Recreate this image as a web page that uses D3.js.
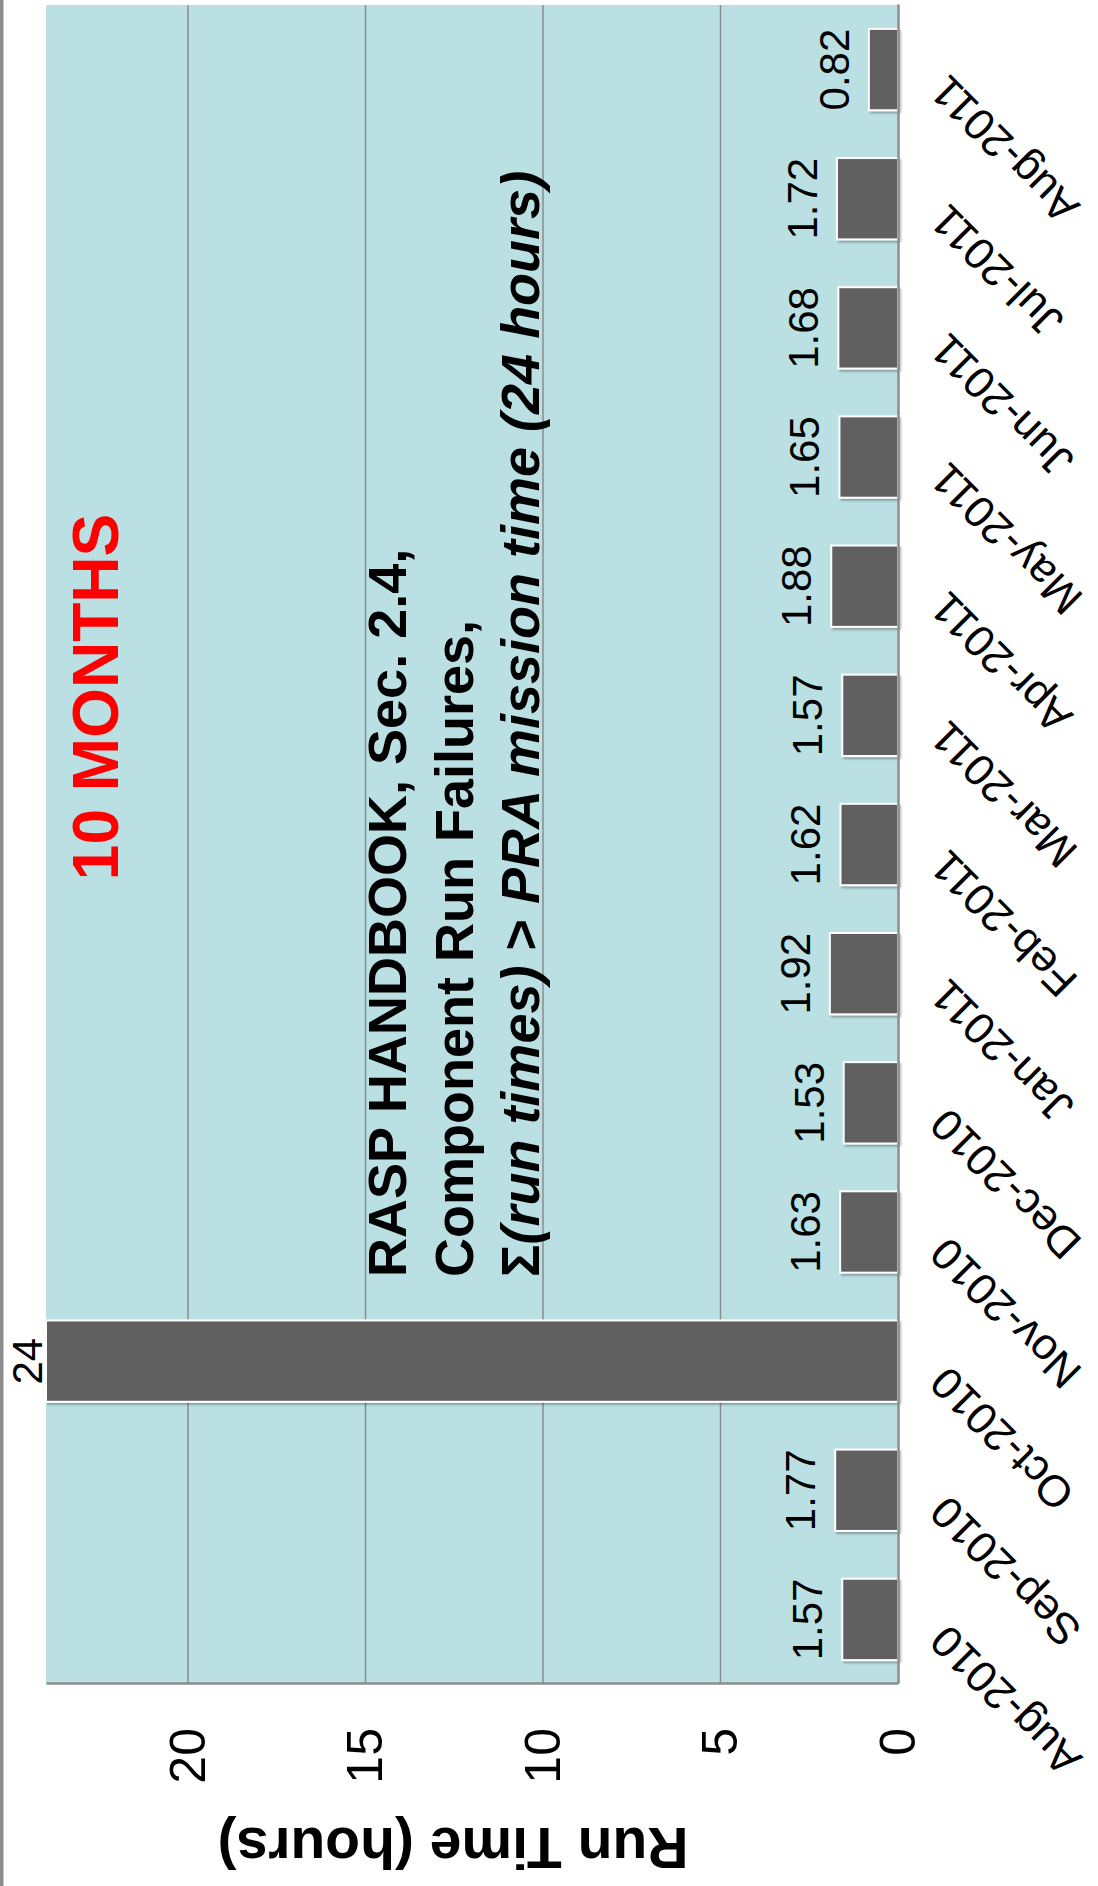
<!DOCTYPE html>
<html>
<head>
<meta charset="utf-8">
<script src="https://cdn.jsdelivr.net/npm/d3@7"></script>
<style>
  body { margin: 0; background: #fff; }
  text { font-family: "Liberation Sans", Arial, sans-serif; }
</style>
</head>
<body>
<div class="chart"></div>
<script>
// chart values
var months = ["Aug-2010", "Sep-2010", "Oct-2010", "Nov-2010", "Dec-2010", "Jan-2011",
  "Feb-2011", "Mar-2011", "Apr-2011", "May-2011", "Jun-2011", "Jul-2011", "Aug-2011"];
var runTimes = [1.57, 1.77, 24, 1.63, 1.53, 1.92, 1.62, 1.57, 1.88, 1.65, 1.68, 1.72, 0.82];
var yTicks = [0, 5, 10, 15, 20];
var yMax = 24;

var svgWidth = 1098;
var svgHeight = 1886;

// plot box on the page (the whole chart is turned on its side)
var plot = { left: 46, right: 898, top: 5, bottom: 1684 };

// upright chart size, before turning it
var width = plot.bottom - plot.top;
var height = plot.right - plot.left;

var svg = d3.select(".chart")
  .append("svg")
  .attr("width", svgWidth)
  .attr("height", svgHeight);

// gray page edge on the left
svg.append("rect")
  .attr("x", 0).attr("y", 0)
  .attr("width", 3.5).attr("height", svgHeight)
  .attr("fill", "#8c8c8c");

var defs = svg.append("defs");
defs.append("filter").attr("id", "shadow")
  .attr("x", "-20%").attr("y", "-20%").attr("width", "140%").attr("height", "140%")
  .append("feDropShadow")
  .attr("dx", -2).attr("dy", 2).attr("stdDeviation", 1.2)
  .attr("flood-color", "#000").attr("flood-opacity", 0.3);

// draw upright, then rotate -90 so categories run bottom to top
var chartGroup = svg.append("g")
  .attr("transform", `translate(${plot.left}, ${plot.bottom}) rotate(-90)`);

var xScale = d3.scaleBand()
  .domain(months)
  .range([0, width])
  .paddingInner(0.37)
  .paddingOuter(0.185);

var yScale = d3.scaleLinear()
  .domain([0, yMax])
  .range([height, 0]);

// plot background
chartGroup.append("rect")
  .attr("width", width)
  .attr("height", height)
  .attr("fill", "#bae0e3");

// gridlines
chartGroup.append("g")
  .selectAll("line")
  .data(yTicks.filter(d => d > 0))
  .enter()
  .append("line")
  .attr("x1", 0)
  .attr("x2", width)
  .attr("y1", d => yScale(d))
  .attr("y2", d => yScale(d))
  .attr("stroke", "#8c8c8c")
  .attr("stroke-width", 1.5);

// value axis
var yAxis = chartGroup.append("g")
  .call(d3.axisLeft(yScale).tickValues(yTicks).tickSize(0).tickPadding(44));
yAxis.select(".domain").attr("stroke", "#8c8c8c").attr("stroke-width", 2.5);
yAxis.selectAll("text")
  .attr("font-size", 50)
  .attr("fill", "#000")
  .style("font-family", "'Liberation Sans', Arial, sans-serif");

// bars
chartGroup.append("g")
  .selectAll("rect")
  .data(runTimes)
  .enter()
  .append("rect")
  .attr("x", (d, i) => xScale(months[i]))
  .attr("y", d => yScale(d))
  .attr("width", xScale.bandwidth())
  .attr("height", d => height - yScale(d))
  .attr("fill", "#616161")
  .attr("stroke", "#ffffff")
  .attr("stroke-width", 2)
  .attr("filter", "url(#shadow)");

// category axis along the zero line
var xAxis = chartGroup.append("g")
  .attr("transform", `translate(0, ${height})`)
  .call(d3.axisBottom(xScale).tickSize(0));
xAxis.select(".domain").attr("stroke", "#8c8c8c").attr("stroke-width", 2.5);
xAxis.selectAll("text")
  .attr("y", 0)
  .attr("dy", "0.35em")
  .attr("text-anchor", "end")
  .attr("transform", "translate(-14, 40) rotate(-45)")
  .attr("font-size", 44)
  .attr("fill", "#000")
  .style("font-family", "'Liberation Sans', Arial, sans-serif");

// value labels
chartGroup.append("g")
  .selectAll("text")
  .data(runTimes)
  .enter()
  .append("text")
  .attr("x", (d, i) => xScale(months[i]) + xScale.bandwidth() / 2)
  .attr("y", d => Math.max(yScale(d) - 20, -4))
  .attr("text-anchor", "middle")
  .attr("font-size", 42)
  .attr("fill", "#000")
  .text(d => d);

// axis title
chartGroup.append("text")
  .attr("transform", `translate(-144, 407) rotate(-90)`)
  .attr("text-anchor", "middle")
  .attr("font-size", 57)
  .attr("font-weight", "bold")
  .text("Run Time (hours)");

// red headline
chartGroup.append("text")
  .attr("x", 987)
  .attr("y", 72)
  .attr("text-anchor", "middle")
  .attr("font-size", 64)
  .attr("font-weight", "bold")
  .attr("fill", "#ff0000")
  .text("10 MONTHS");

// note
var note = chartGroup.append("text")
  .attr("font-size", 54)
  .attr("font-weight", "bold")
  .attr("fill", "#000");
note.append("tspan").attr("x", 407).attr("y", 360).text("RASP HANDBOOK, Sec. 2.4,");
note.append("tspan").attr("x", 407).attr("y", 427).text("Component Run Failures,");
note.append("tspan").attr("x", 407).attr("y", 493).text("Σ");
note.append("tspan").attr("font-style", "italic").text("(run times)");
note.append("tspan").text(" > ");
note.append("tspan").attr("font-style", "italic").text("PRA mission time (24 hours)");
</script>
</body>
</html>
